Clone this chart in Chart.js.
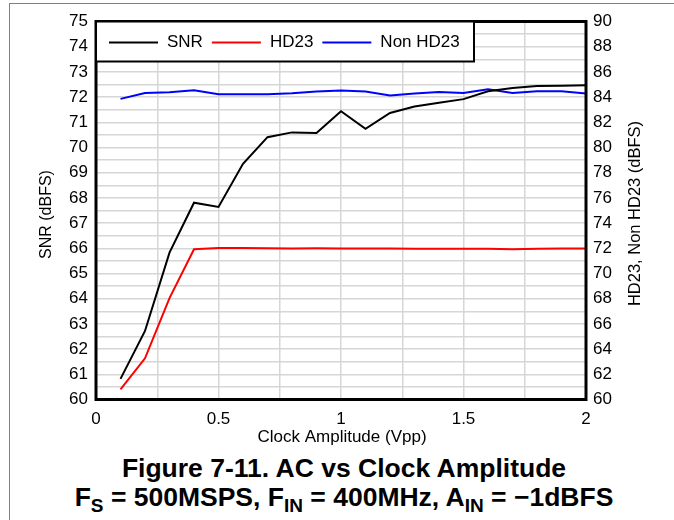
<!DOCTYPE html>
<html>
<head>
<meta charset="utf-8">
<title>AC vs Clock Amplitude</title>
<script src="https://cdn.jsdelivr.net/npm/chart.js@4.4.1/dist/chart.umd.min.js"></script>
<style>
body { margin: 0; background: #fff; font-family: "Liberation Sans", Arial, sans-serif; }
#wrap { position: relative; width: 674px; height: 520px; overflow: hidden; }
#lineLeft { position: absolute; left: 9px; top: 3px; width: 1px; height: 517px; background: #808080; }
#lineTop { position: absolute; left: 9px; top: 3px; width: 665px; height: 1px; background: #808080; }
#chartBox { position: absolute; left: 0; top: 0; width: 674px; height: 450px; }
.cap { position: absolute; left: 12px; width: 664px; text-align: center; font-weight: bold; font-size: 26.5px; line-height: 30px; color: #000; white-space: nowrap; }
.cap sub { font-size: 19px; vertical-align: -6px; line-height: 0; }
</style>
</head>
<body>
<div id="wrap">
  <div id="lineLeft"></div>
  <div id="lineTop"></div>
  <div id="chartBox"><canvas id="grafico" width="674" height="450"></canvas></div>
  <div class="cap" style="top:453px;">Figure 7-11. AC vs Clock Amplitude</div>
  <div class="cap" style="top:482px;">F<sub>S</sub> = 500MSPS, F<sub>IN</sub> = 400MHz, A<sub>IN</sub> = &minus;1dBFS</div>
</div>
<script>
// ==================== DATOS ====================
const clockVpp = [0.1, 0.2, 0.3, 0.4, 0.5, 0.6, 0.7, 0.8, 0.9, 1.0,
                  1.1, 1.2, 1.3, 1.4, 1.5, 1.6, 1.7, 1.8, 1.9, 2.0];
const snr = [60.82, 62.72, 65.83, 67.81, 67.64, 69.35, 70.41, 70.6, 70.58, 71.44,
             70.74, 71.37, 71.63, 71.78, 71.92, 72.23, 72.36, 72.44, 72.45, 72.47];
const hd23 = [60.8, 63.27, 68.05, 71.93, 72.02, 72.02, 72.0, 71.98, 72.0, 71.98,
              71.98, 71.98, 71.97, 71.97, 71.97, 71.96, 71.92, 71.96, 71.98, 71.98];
const nonHd23 = [83.86, 84.33, 84.39, 84.55, 84.23, 84.23, 84.23, 84.3, 84.44, 84.52,
                 84.44, 84.13, 84.28, 84.41, 84.33, 84.62, 84.33, 84.46, 84.46, 84.28];
const xTickLabels = ['0', '0.5', '1', '1.5', '2'];
const seriesNames = ['SNR', 'HD23', 'Non HD23'];
const seriesColors = ['#000000', '#ff0000', '#0000ff'];
const leftTitle = 'SNR (dBFS)';
const rightTitle = 'HD23, Non HD23 (dBFS)';
const xTitle = 'Clock Amplitude (Vpp)';

const FONT = '"Liberation Sans", Arial, sans-serif';
Chart.defaults.font.family = FONT;
Chart.defaults.color = '#000';

function puntos(valores) {
    return clockVpp.map((x, i) => ({ x: x, y: valores[i] }));
}

// ==================== PLUGIN: marco, leyenda y títulos ====================
const decor = {
    id: 'decor',
    afterDraw(chart) {
        const ctx = chart.ctx;
        const a = chart.chartArea;
        ctx.save();

        // marco del área
        ctx.strokeStyle = '#000';
        ctx.lineWidth = 3;
        ctx.strokeRect(a.left, a.top, a.right - a.left, a.bottom - a.top);

        // leyenda
        const boxTop = a.top, boxH = 40, boxL = a.left, boxR = 474;
        ctx.fillStyle = '#fff';
        ctx.fillRect(boxL, boxTop, boxR - boxL, boxH);
        ctx.lineWidth = 2;
        ctx.strokeRect(boxL, boxTop, boxR - boxL, boxH);
        ctx.font = '17px ' + FONT;
        ctx.textBaseline = 'middle';
        ctx.textAlign = 'left';
        const ly = boxTop + boxH / 2 + 1;
        let lx = 109;
        chart.data.datasets.forEach(ds => {
            ctx.strokeStyle = ds.borderColor;
            ctx.lineWidth = 2;
            ctx.beginPath();
            ctx.moveTo(lx, ly);
            ctx.lineTo(lx + 49, ly);
            ctx.stroke();
            ctx.fillStyle = '#000';
            ctx.fillText(ds.label, lx + 58, ly);
            lx += 58 + ctx.measureText(ds.label).width + 9;
        });

        // títulos de ejes
        const midY = (a.top + a.bottom) / 2;
        ctx.textAlign = 'center';
        ctx.fillStyle = '#000';
        ctx.font = '16px ' + FONT;
        ctx.save();
        ctx.translate(47, midY + 4);
        ctx.rotate(-Math.PI / 2);
        ctx.fillText(leftTitle, 0, 0);
        ctx.restore();
        ctx.font = '16.5px ' + FONT;
        ctx.save();
        ctx.translate(635, midY + 3);
        ctx.rotate(-Math.PI / 2);
        ctx.fillText(rightTitle, 0, 0);
        ctx.restore();
        ctx.font = '17px ' + FONT;
        ctx.fillText(xTitle, (a.left + a.right) / 2 + 1, 437);

        ctx.restore();
    }
};

// ==================== GRÁFICO ====================
const datos = [snr, hd23, nonHd23];
const ejes = ['y', 'y2', 'y2'];

new Chart(document.getElementById('grafico'), {
    type: 'line',
    data: {
        datasets: seriesNames.map((nombre, i) => ({
            label: nombre,
            data: puntos(datos[i]),
            yAxisID: ejes[i],
            borderColor: seriesColors[i],
            backgroundColor: seriesColors[i],
            borderWidth: 2,
            pointRadius: 0,
            tension: 0,
            fill: false
        }))
    },
    options: {
        responsive: false,
        animation: false,
        layout: { padding: { top: 21.5, left: 0, right: 0, bottom: 0 } },
        plugins: {
            legend: { display: false },
            tooltip: { enabled: false }
        },
        scales: {
            x: {
                type: 'linear',
                min: 0,
                max: 2,
                afterFit: s => { s.height = 50.5; },
                ticks: {
                    stepSize: 0.25,
                    autoSkip: false,
                    maxRotation: 0,
                    padding: 10,
                    font: { size: 17 },
                    callback: v => {
                        const t = xTickLabels.find(l => Math.abs(parseFloat(l) - v) < 1e-6);
                        return t === undefined ? '' : t;
                    }
                },
                grid: { color: '#d6d6d6', lineWidth: 1.5, drawTicks: false },
                border: { display: false }
            },
            y: {
                position: 'left',
                min: 60,
                max: 75,
                afterFit: s => { s.width = 96; },
                ticks: { stepSize: 1, autoSkip: false, padding: 8, font: { size: 17 } },
                grid: { display: false, drawTicks: false },
                border: { display: false }
            },
            y2: {
                position: 'right',
                min: 60,
                max: 90,
                afterFit: s => { s.width = 88; },
                ticks: {
                    stepSize: 1,
                    autoSkip: false,
                    padding: 7,
                    font: { size: 17 },
                    callback: v => (v % 2 === 0 ? String(v) : '')
                },
                grid: { color: '#d6d6d6', lineWidth: 1.5, drawTicks: false },
                border: { display: false }
            }
        }
    },
    plugins: [decor]
});
</script>
</body>
</html>
